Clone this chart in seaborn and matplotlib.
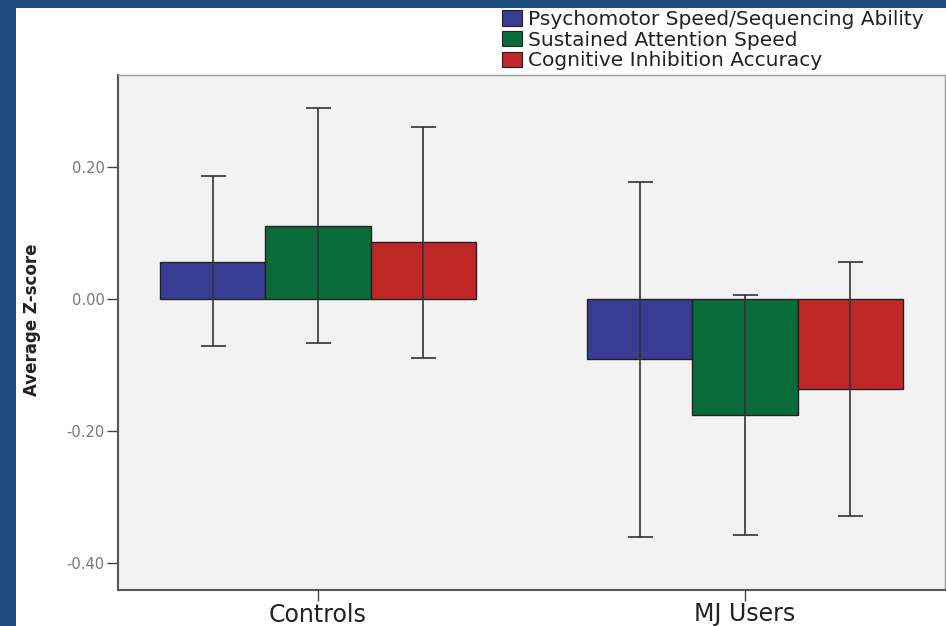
import matplotlib
matplotlib.use("Agg")
import matplotlib.pyplot as plt
import matplotlib.patches as mpatches
import seaborn as sns
import pandas as pd
import numpy as np

groups = ["Controls", "MJ Users"]
measures = ["Psychomotor Speed/Sequencing Ability", "Sustained Attention Speed", "Cognitive Inhibition Accuracy"]
colors = ["#383d93", "#0a6a3a", "#bf2626"]
means_controls = [0.056, 0.111, 0.086]
means_mj = [-0.091, -0.176, -0.136]
err_low_controls = [-0.071, -0.067, -0.089]
err_high_controls = [0.186, 0.289, 0.261]
err_low_mj = [-0.361, -0.358, -0.329]
err_high_mj = [0.177, 0.006, 0.056]
yticks = [0.20, 0.00, -0.20, -0.40]

rows = []
for g, means, lo, hi in [("Controls", means_controls, err_low_controls, err_high_controls),
                         ("MJ Users", means_mj, err_low_mj, err_high_mj)]:
    for m, v, l, h in zip(measures, means, lo, hi):
        rows.append({"group": g, "measure": m, "value": v, "lo": l, "hi": h})
df = pd.DataFrame(rows)

sns.set_theme(style="white")
plt.rcParams['font.family'] = ['DejaVu Sans']

fig = plt.figure(figsize=(9.46, 6.26), dpi=100)
fig.patch.set_facecolor("#1f4a7c")
fig.patches.append(mpatches.Rectangle((16/946, 0), 1 - 16/946, 1 - 8/626,
                                      transform=fig.transFigure, facecolor="white",
                                      edgecolor="none", zorder=-10))

ax = fig.add_axes([118/946, 1 - 590/626, (945 - 118)/946, (590 - 75)/626])
ax.set_facecolor("#f2f2f2")

sns.barplot(data=df, x="group", y="value", hue="measure", order=groups, hue_order=measures,
            palette=colors, errorbar=None, width=0.74, edgecolor="#222222", linewidth=1.0,
            saturation=1, ax=ax, legend=False)

patches = [p for p in ax.patches]
for i, m in enumerate(measures):
    for j, g in enumerate(groups):
        p = patches[i * len(groups) + j]
        xc = p.get_x() + p.get_width() / 2
        r = df[(df.group == g) & (df.measure == m)].iloc[0]
        ax.errorbar([xc], [r.value], yerr=[[r.value - r.lo], [r.hi - r.value]],
                    fmt="none", ecolor="#333333", elinewidth=1.2, capsize=9, capthick=1.2, zorder=5)

ax.set_xlim(-0.468, 1.468)
ax.set_ylim(-0.441, 0.339)
ax.set_yticks(yticks)
ax.set_yticklabels([f"{t:.2f}" for t in yticks], color="#777777", fontsize=10.5)
ax.set_xticklabels(groups, fontsize=17, color="#222222")
ax.set_xlabel("")
ax.set_ylabel("Average Z-score", fontsize=12, fontweight="bold", color="#222222")
ax.yaxis.set_label_coords(-0.093, 0.525)
ax.tick_params(axis="y", direction="out", length=8, width=1, color="#444444", left=True, pad=1.5)
ax.tick_params(axis="x", direction="out", length=8, width=1, color="#444444", bottom=True, pad=1)
for s in ["left", "bottom"]:
    ax.spines[s].set_color("#555555")
    ax.spines[s].set_linewidth(1.5)
for s in ["top", "right"]:
    ax.spines[s].set_color("#999999")
    ax.spines[s].set_linewidth(1.0)

handles = [mpatches.Patch(facecolor=c, edgecolor="#222222", linewidth=0.8) for c in colors]
fig.legend(handles, measures, loc="upper left", bbox_to_anchor=(502/946, 1 - 10/626),
           frameon=False, fontsize=14.5, handlelength=1.0, handleheight=0.78,
           handletextpad=0.28, labelspacing=0.08, borderpad=0, borderaxespad=0,
           labelcolor="#222222")

fig.savefig("out.png", dpi=100, facecolor=fig.get_facecolor())
